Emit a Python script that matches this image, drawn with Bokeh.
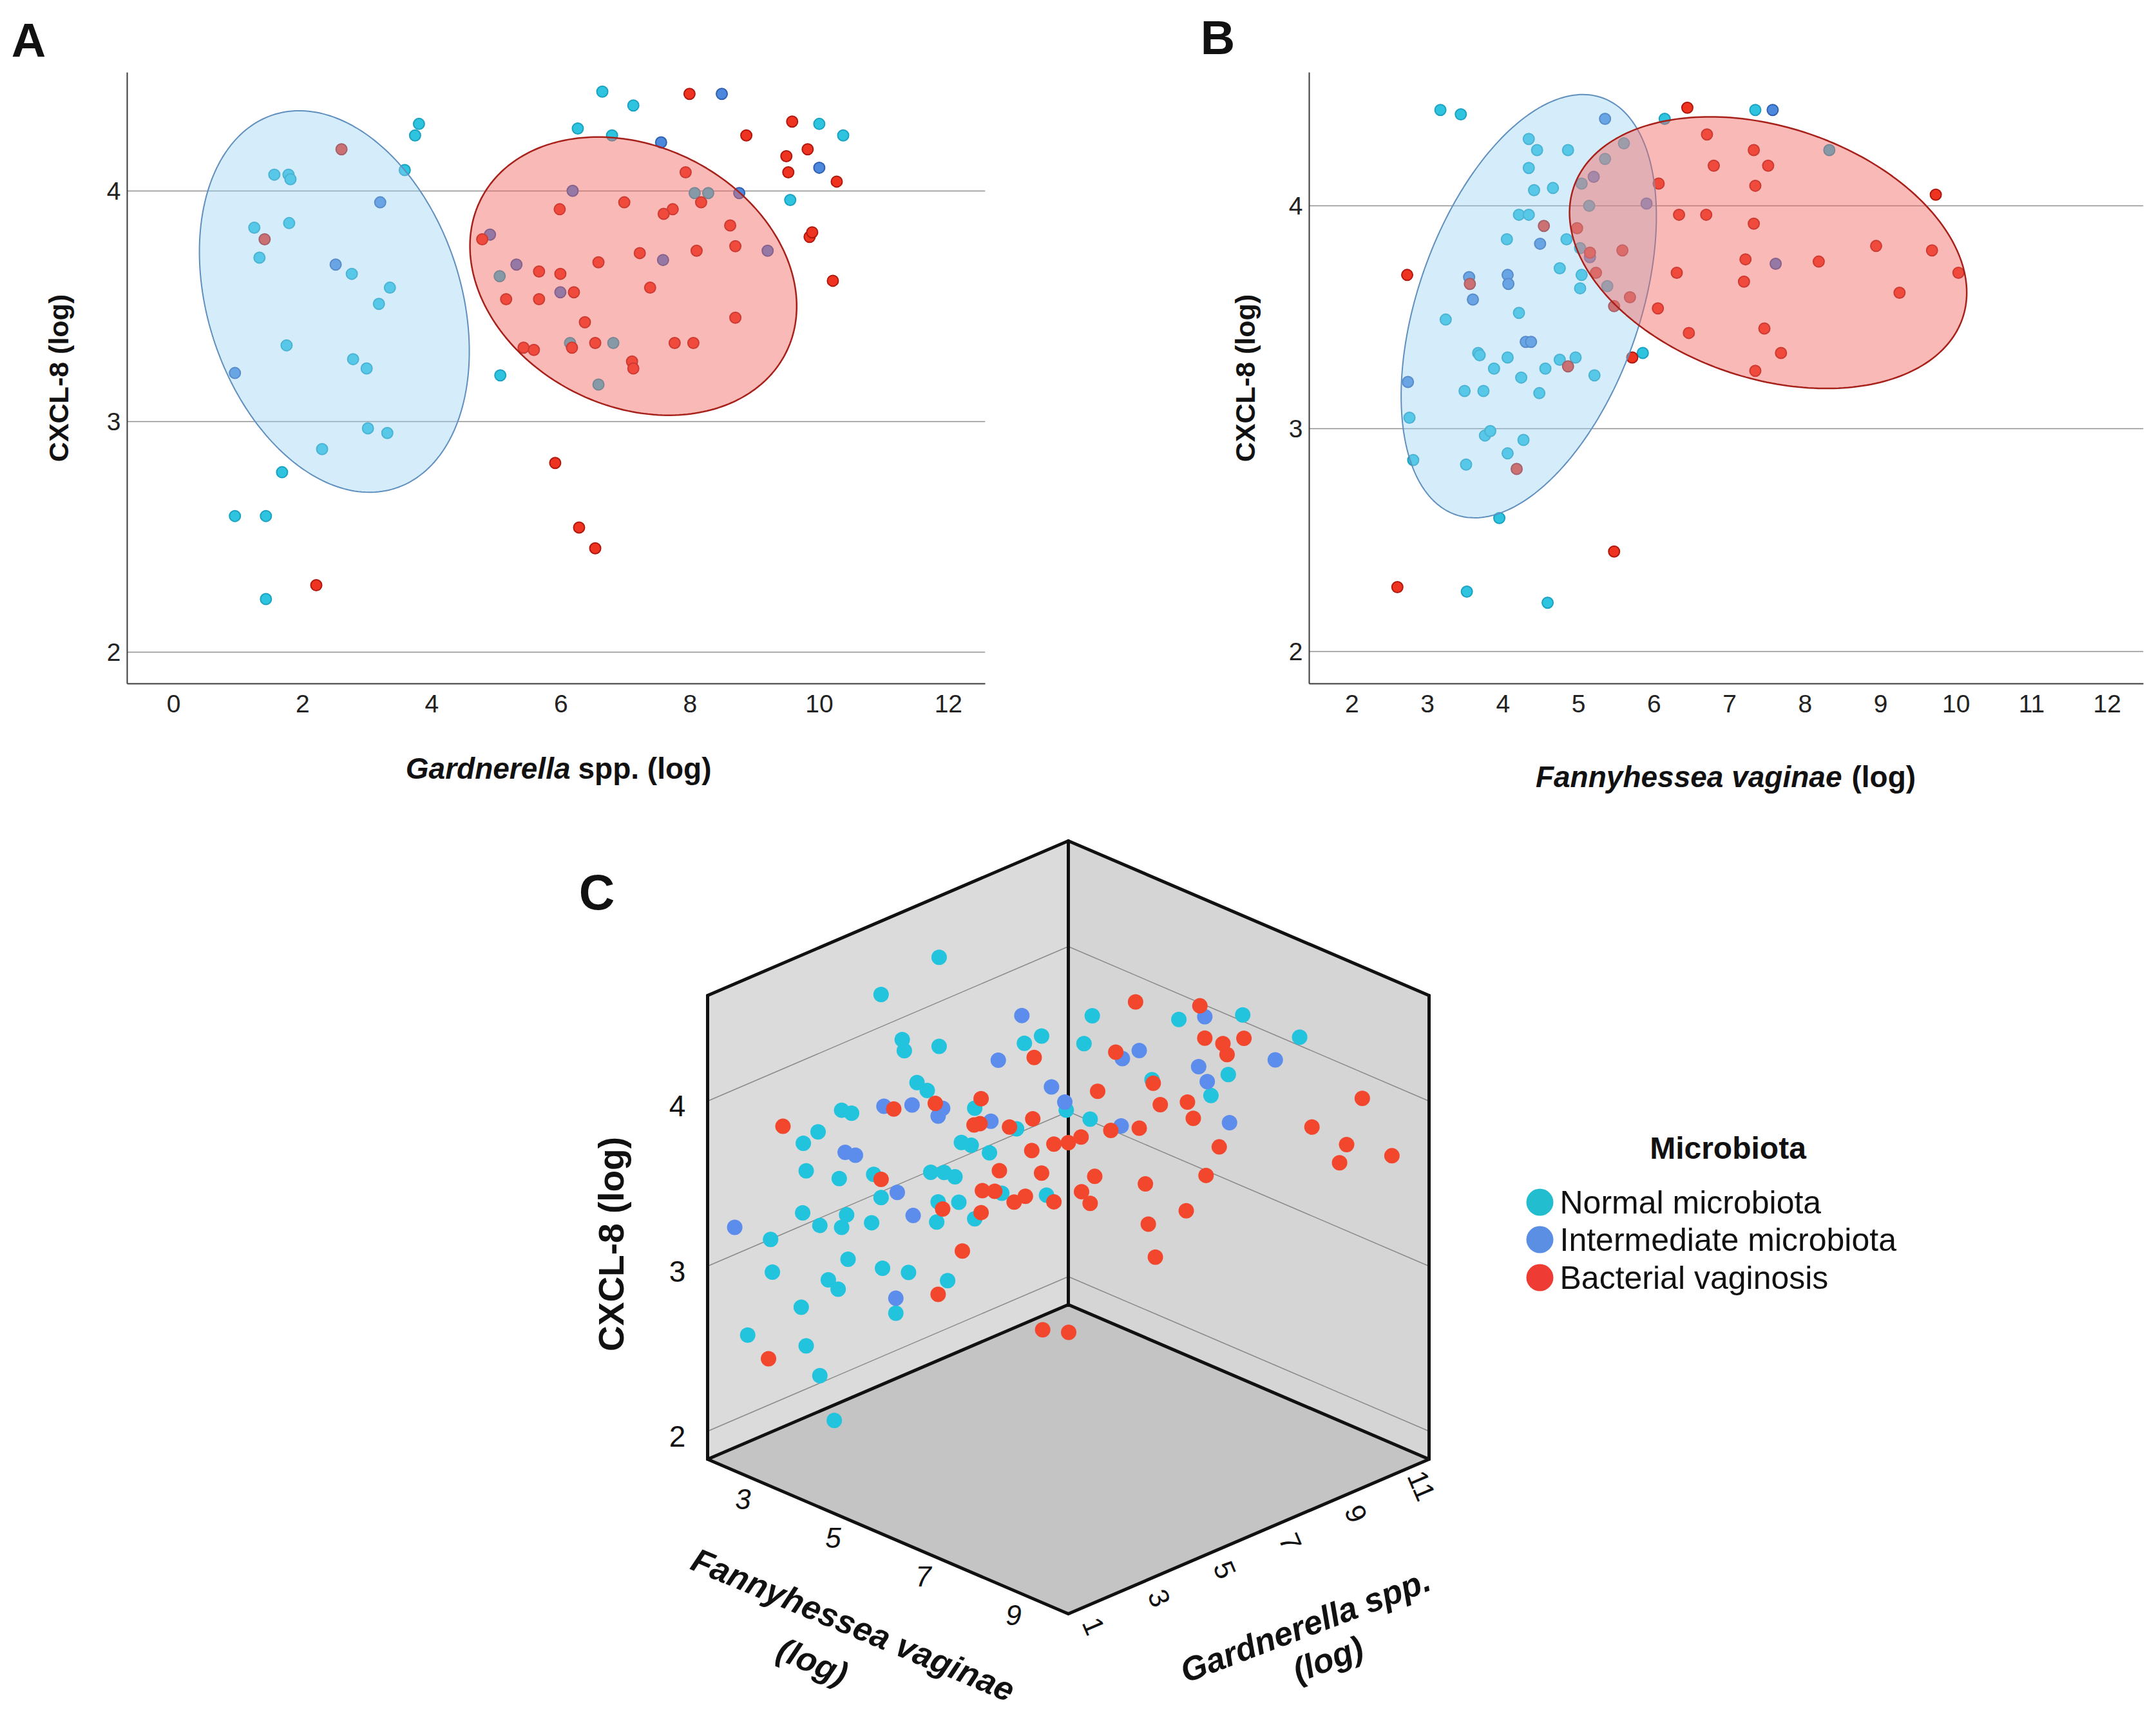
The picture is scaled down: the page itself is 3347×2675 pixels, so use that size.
import numpy as np
from bokeh.plotting import figure
from bokeh.models import Range1d, FixedTicker
from bokeh.layouts import column, row
from bokeh.embed import file_html
from bokeh.resources import INLINE
from bokeh.core.properties import value

FONT = "Liberation Sans"

# ---------------- Panel A: Gardnerella spp. (log) vs CXCL-8 (log) ----------------
a_nm_gard = [6.64, 7.12, 6.26, 6.79, 10.00, 10.37, 9.55, 3.80, 3.74, 3.58,
             1.56, 1.78, 1.81, 1.25, 1.79, 1.33, 2.76, 3.35, 3.18, 1.75,
             2.78, 2.99, 3.01, 3.31, 2.30, 1.68, 0.95, 1.43, 1.43, 5.06,
             5.05, 6.14, 6.81, 6.58, 8.07, 8.28]
a_nm_cxcl = [4.43, 4.37, 4.27, 4.24, 4.29, 4.24, 3.96, 4.29, 4.24, 4.09,
             4.07, 4.07, 4.05, 3.84, 3.86, 3.71, 3.64, 3.58, 3.51, 3.33,
             3.27, 3.23, 2.97, 2.95, 2.88, 2.78, 2.59, 2.59, 2.23, 3.20,
             3.63, 3.34, 3.34, 3.16, 3.99, 3.99]
a_im_gard = [8.49, 7.55, 10.00, 3.20, 2.51, 0.95, 6.18, 4.90, 5.31, 5.99, 7.58, 8.76, 9.20]
a_im_cxcl = [4.42, 4.21, 4.10, 3.95, 3.68, 3.21, 4.00, 3.81, 3.68, 3.56, 3.70, 3.99, 3.74]
a_bv_gard = [7.99, 9.58, 8.87, 9.82, 9.49, 9.52, 10.27, 9.85, 9.89, 10.21,
             7.93, 8.17, 6.98, 5.98, 7.73, 7.59, 8.62, 8.70, 8.10, 7.22,
             4.78, 6.58, 5.66, 5.99, 6.20, 7.38, 5.15, 5.66, 6.37, 8.70,
             5.42, 5.58, 6.17, 6.53, 7.76, 8.05, 7.10, 7.12, 5.91, 6.28,
             6.53, 2.21, 2.60, 1.41]
a_bv_cxcl = [4.42, 4.30, 4.24, 4.18, 4.15, 4.08, 4.04, 3.80, 3.82, 3.61,
             4.08, 3.95, 3.95, 3.92, 3.92, 3.90, 3.85, 3.76, 3.74, 3.73,
             3.79, 3.69, 3.65, 3.64, 3.56, 3.58, 3.53, 3.53, 3.43, 3.45,
             3.32, 3.31, 3.32, 3.34, 3.34, 3.34, 3.26, 3.23, 2.82, 2.54,
             2.45, 2.29, 4.18, 3.79]
# group ellipses: centre x, centre y, sd x, sd y, covariance
a_ellipse_nm = [2.49, 3.52, 2.09, 0.827, -0.45]
a_ellipse_bv = [7.12, 3.63, 2.53, 0.603, -0.33]
a_xticks = [0, 2, 4, 6, 8, 10, 12]

# ---------------- Panel B: Fannyhessea vaginae (log) vs CXCL-8 (log) ----------------
b_nm_fanny = [3.17, 3.44, 6.14, 7.34, 4.34, 4.45, 4.86, 5.60, 5.35, 8.32,
              4.34, 4.41, 4.66, 5.04, 4.21, 4.34, 5.14, 4.05, 4.84, 5.02,
              4.75, 5.04, 5.02, 5.38, 3.24, 4.21, 3.67, 3.69, 4.06, 4.75,
              4.96, 5.85, 3.88, 4.56, 4.24, 5.21, 3.49, 3.74, 4.48, 2.76,
              3.76, 3.83, 4.27, 2.81, 3.51, 4.06, 3.95, 3.52, 4.59]
b_nm_cxcl = [4.43, 4.41, 4.39, 4.43, 4.30, 4.25, 4.25, 4.28, 4.21, 4.25,
             4.17, 4.07, 4.08, 4.10, 3.96, 3.96, 4.00, 3.85, 3.85, 3.81,
             3.72, 3.69, 3.63, 3.64, 3.49, 3.52, 3.34, 3.33, 3.32, 3.31,
             3.32, 3.34, 3.27, 3.27, 3.23, 3.24, 3.17, 3.17, 3.16, 3.05,
             2.97, 2.99, 2.95, 2.86, 2.84, 2.89, 2.60, 2.27, 2.22]
b_im_fanny = [5.35, 7.57, 5.20, 5.90, 4.49, 5.15, 3.55, 4.06, 4.07, 3.60, 4.30, 4.37, 2.74, 7.61]
b_im_cxcl = [4.39, 4.43, 4.13, 4.01, 3.83, 3.77, 3.68, 3.69, 3.65, 3.58, 3.39, 3.39, 3.21, 3.74]
b_bv_fanny = [6.44, 6.70, 7.32, 6.79, 7.51, 6.06, 7.34, 9.73, 6.33, 6.69,
              7.32, 4.54, 4.98, 5.15, 5.58, 8.94, 9.68, 7.21, 8.18, 2.73,
              6.30, 10.03, 7.19, 3.56, 5.23, 9.25, 5.68, 5.47, 6.05, 7.46,
              6.46, 7.68, 5.71, 7.34, 4.86, 4.18, 5.47, 2.60]
b_bv_cxcl = [4.44, 4.32, 4.25, 4.18, 4.18, 4.10, 4.09, 4.05, 3.96, 3.96,
             3.92, 3.91, 3.90, 3.79, 3.80, 3.82, 3.80, 3.76, 3.75, 3.69,
             3.70, 3.70, 3.66, 3.65, 3.70, 3.61, 3.59, 3.55, 3.54, 3.45,
             3.43, 3.34, 3.32, 3.26, 3.28, 2.82, 2.45, 2.29]
b_ellipse_nm = [4.34, 3.55, 1.69, 0.949, 0.68]
b_ellipse_bv = [7.51, 3.79, 2.63, 0.609, -0.47]
b_xticks = [2, 3, 4, 5, 6, 7, 8, 9, 10, 11, 12]

# ---------------- Panel C: 3-D scatter ----------------
c_nm_fanny = [3.28, 2.96, 3.85, 3.76, 3.08, 3.09, 3.28, 3.99, 3.16, 3.22,
              2.74, 2.80, 3.48, 3.71, 2.61, 2.53, 3.41, 3.46, 3.56, 2.55,
              2.73, 2.92, 3.24, 3.31, 3.37, 2.96, 3.63, 3.88, 3.28, 3.39,
              2.53, 2.77, 2.74, 2.62, 2.91, 3.27, 3.48, 2.35, 2.78, 2.36,
              2.97, 3.11, 2.67, 2.72, 3.33, 3.04, 2.52, 2.22, 2.55, 2.62,
              2.70, 4.40, 5.84, 6.90, 4.26, 7.85, 6.66, 5.39, 6.37, 4.36]
c_nm_gard = [5.80, 4.47, 8.14, 7.74, 4.95, 5.00, 5.80, 8.70, 5.29, 5.52,
             3.57, 3.79, 6.61, 7.57, 3.03, 2.69, 6.30, 6.53, 6.95, 2.75,
             3.51, 4.30, 5.60, 5.91, 6.16, 4.47, 7.23, 8.25, 5.77, 6.25,
             2.67, 3.68, 3.57, 3.07, 4.25, 5.74, 6.61, 1.94, 3.71, 1.98,
             4.50, 5.10, 3.26, 3.49, 5.99, 4.81, 2.64, 1.42, 2.75, 3.07,
             3.40, 8.93, 9.59, 10.08, 8.87, 10.51, 9.97, 9.39, 9.84, 8.92]
c_nm_cxcl = [4.57, 4.42, 3.96, 3.94, 4.12, 4.05, 4.03, 3.48, 3.84, 3.78,
             3.77, 3.74, 3.61, 3.43, 3.67, 3.62, 3.42, 3.39, 3.32, 3.45,
             3.36, 3.34, 3.28, 3.26, 3.22, 3.19, 3.06, 2.99, 3.09, 3.06,
             3.20, 3.13, 3.06, 3.10, 3.05, 2.97, 2.94, 3.08, 2.86, 2.88,
             2.76, 2.70, 2.76, 2.69, 2.60, 2.47, 2.63, 2.53, 2.39, 2.19,
             1.90, 4.08, 4.17, 4.28, 3.90, 4.22, 3.90, 3.77, 3.75, 3.45]
c_im_fanny = [3.74, 3.61, 3.91, 3.98, 2.98, 3.13, 3.30, 3.28, 3.57, 2.76,
              2.82, 3.05, 3.14, 2.15, 3.04, 6.27, 4.90, 5.18, 6.17, 7.44,
              6.31, 4.88, 6.68]
c_im_gard = [7.69, 7.15, 8.36, 8.67, 4.53, 5.18, 5.88, 5.77, 6.98, 3.65,
             3.88, 4.84, 5.20, 1.12, 4.81, 9.79, 9.16, 9.29, 9.74, 10.33,
             9.81, 9.15, 9.98]
c_im_cxcl = [4.11, 3.87, 3.64, 3.53, 3.74, 3.71, 3.65, 3.61, 3.51, 3.51,
             3.48, 3.20, 3.04, 3.20, 2.56, 4.22, 3.86, 3.93, 3.91, 4.05,
             3.83, 3.45, 3.61]
c_bv_fanny = [3.81, 3.03, 3.26, 3.52, 3.48, 3.51, 3.67, 3.80, 3.92, 4.00,
              4.21, 2.42, 3.80, 2.96, 3.62, 3.85, 3.52, 3.59, 3.70, 3.76,
              3.92, 3.30, 3.52, 3.41, 3.28, 2.34, 3.86, 4.00, 5.12, 6.19,
              6.27, 6.57, 6.64, 6.92, 4.79, 5.41, 4.49, 8.89, 5.53, 5.98,
              6.08, 4.71, 5.18, 8.05, 6.51, 8.63, 8.51, 9.38, 6.29, 4.44,
              5.28, 4.22, 4.36, 5.96, 5.33, 5.45]
c_bv_gard = [7.97, 4.76, 5.71, 6.75, 6.59, 6.73, 7.41, 7.94, 8.42, 8.75,
             8.85, 2.22, 7.91, 4.47, 7.17, 8.14, 6.79, 7.07, 7.51, 7.77,
             8.42, 5.88, 6.75, 6.33, 5.77, 1.89, 8.16, 8.76, 9.26, 9.75,
             9.79, 9.93, 9.96, 10.09, 9.11, 9.40, 8.97, 10.99, 9.45, 9.66,
             9.70, 9.07, 9.29, 10.61, 9.90, 10.87, 10.82, 11.22, 9.80, 8.95,
             9.34, 8.85, 8.92, 9.65, 9.36, 9.41]
c_bv_cxcl = [3.84, 3.71, 3.69, 3.66, 3.51, 3.51, 3.45, 3.47, 3.29, 3.28,
             3.33, 3.75, 3.28, 3.30, 3.20, 3.13, 3.10, 3.08, 2.99, 3.01,
             2.94, 3.04, 2.97, 2.76, 2.53, 2.36, 2.18, 2.13, 4.22, 4.28,
             4.09, 4.08, 4.02, 4.14, 3.89, 3.75, 3.63, 3.93, 3.63, 3.68,
             3.59, 3.41, 3.46, 3.69, 3.45, 3.63, 3.51, 3.62, 3.26, 3.11,
             3.13, 3.00, 2.94, 3.02, 2.89, 2.70]
c_fanny_range = [2.0, 10.0]
c_gard_range = [0.5, 11.5]
c_cxcl_range = [1.83, 4.64]
c_fanny_ticks = [3, 5, 7, 9]
c_gard_ticks = [1, 3, 5, 7, 9, 11]
c_cxcl_ticks = [2, 3, 4]

groups = ["Normal microbiota", "Intermediate microbiota", "Bacterial vaginosis"]

FILL = ["#2EC4E0", "#4C88DC", "#EE3321"]
EDGE = ["#1AA2C0", "#2F5FB0", "#B0180E"]
FILL3D = ["#22C3DD", "#5C8CEC", "#F2472D"]
LEG = ["#22BECF", "#5B8FE3", "#EE3B33"]
INK = "#111111"

PAGE_W = 3331
TOP_H = 112          # strip holding the panel letters
ROW_H = 1030         # panels A and B
ROW_TOP = 8 + TOP_H
C_TOP = ROW_TOP + ROW_H
C_H = 2667 - C_TOP


def ellipse_xy(params, n=240):
    cx, cy, sx, sy, cov = params
    L = np.linalg.cholesky(np.array([[sx * sx, cov], [cov, sy * sy]]))
    t = np.linspace(0, 2 * np.pi, n)
    pts = L @ np.vstack([np.cos(t), np.sin(t)])
    return cx + pts[0], cy + pts[1]


def make_2d(width, height, xr, yr, mb, xticks, ylabel_standoff):
    p = figure(width=width, height=height, x_range=Range1d(*xr), y_range=Range1d(*yr),
               output_backend="svg", toolbar_location=None,
               min_border_left=mb[0], min_border_right=mb[1],
               min_border_top=mb[2], min_border_bottom=mb[3])
    p.outline_line_color = None
    p.xaxis.ticker = FixedTicker(ticks=xticks)
    p.yaxis.ticker = FixedTicker(ticks=[2, 3, 4])
    for ax in p.axis:
        ax.major_tick_out = 0
        ax.major_tick_in = 0
        ax.minor_tick_out = 0
        ax.minor_tick_in = 0
        ax.major_tick_line_color = None
        ax.minor_tick_line_color = None
        ax.axis_line_color = "#3a3a3a"
        ax.axis_line_width = 2
        ax.major_label_text_font = FONT
        ax.major_label_text_font_size = "39px"
        ax.major_label_text_color = "#222222"
    p.xaxis.major_label_standoff = 17
    p.yaxis.major_label_standoff = 10
    p.yaxis.axis_label = "CXCL-8 (log)"
    p.yaxis.axis_label_text_font = FONT
    p.yaxis.axis_label_text_font_size = "43px"
    p.yaxis.axis_label_text_font_style = "bold"
    p.yaxis.axis_label_text_color = INK
    p.yaxis.axis_label_standoff = ylabel_standoff
    p.xgrid.grid_line_color = None
    p.ygrid.ticker = FixedTicker(ticks=[2, 3, 4])
    p.ygrid.grid_line_color = "#8f8f8f"
    p.ygrid.grid_line_width = 1.6
    return p


def add_points(p, xs, ys):
    for (x, y), fc, lc in zip(zip(xs, ys), FILL, EDGE):
        p.scatter(x, y, size=17, fill_color=fc, line_color=lc, line_width=2)


def add_ellipses(p, ell_nm, ell_bv):
    ex, ey = ellipse_xy(ell_nm)
    p.patch(ex, ey, fill_color="#96CFF2", fill_alpha=0.4, line_color="#5E8FBF", line_width=2)
    ex, ey = ellipse_xy(ell_bv)
    p.patch(ex, ey, fill_color="#F2665F", fill_alpha=0.45, line_color="#A8201A", line_width=2.5)


def page_text(p, xs, ys, texts, size, style="normal", align="center", angle=0.0):
    p.text(xs, ys, text=texts, text_font=value(FONT), text_font_size=size,
           text_font_style=style, text_align=align, text_baseline="middle",
           angle=angle, text_color=INK)


# ---- strip with the panel letters (page coordinates) ----
pTop = figure(width=PAGE_W, height=TOP_H, output_backend="svg", toolbar_location=None,
              x_range=Range1d(8, 8 + PAGE_W), y_range=Range1d(ROW_TOP, 8),
              x_axis_location=None, y_axis_location=None, min_border=0)
pTop.outline_line_color = None
pTop.grid.grid_line_color = None
page_text(pTop, [52, 1898], [70, 66], ["A", "B"], "74px", "bold")

# ---- figure A ----  frame: page x 205..1537, y 120..1069
pA = make_2d(1640, ROW_H, (-0.718, 12.57), (1.863, 4.513),
             (197, 111, 0, ROW_H - (1069 - ROW_TOP)), a_xticks, 48)
add_points(pA, [a_nm_gard, a_im_gard, a_bv_gard], [a_nm_cxcl, a_im_cxcl, a_bv_cxcl])
add_ellipses(pA, a_ellipse_nm, a_ellipse_bv)

# ---- figure B ----  frame: page x 2040..3335, y 120..1071
pB = make_2d(1691, ROW_H, (1.433, 12.48), (1.857, 4.598),
             (392, 4, 0, ROW_H - (1071 - ROW_TOP)), b_xticks, 41)
add_points(pB, [b_nm_fanny, b_im_fanny, b_bv_fanny], [b_nm_cxcl, b_im_cxcl, b_bv_cxcl])
add_ellipses(pB, b_ellipse_nm, b_ellipse_bv)

# ---- figure C (oblique 3-D projection) ----
CUBE_X = 1106        # page position of the cube's front-left floor corner
CUBE_Y = 2273
UNIT = 560.0
KX, KZ = 240.0 / 560.0, 720.0 / 560.0

pC = figure(width=PAGE_W, height=C_H, output_backend="svg", toolbar_location=None,
            x_range=Range1d((8 - CUBE_X) / UNIT, (8 + PAGE_W - CUBE_X) / UNIT),
            y_range=Range1d((CUBE_Y - (C_TOP + C_H)) / UNIT, (CUBE_Y - C_TOP) / UNIT),
            x_axis_location=None, y_axis_location=None, min_border=0)
pC.outline_line_color = None
pC.grid.grid_line_color = None


def proj(F, G, Z):
    F = np.asarray(F, float)
    G = np.asarray(G, float)
    Z = np.asarray(Z, float)
    f = (F - c_fanny_range[0]) / (c_fanny_range[1] - c_fanny_range[0])
    g = (G - c_gard_range[0]) / (c_gard_range[1] - c_gard_range[0])
    z = (Z - c_cxcl_range[0]) / (c_cxcl_range[1] - c_cxcl_range[0])
    return f + g, KX * (g - f) + KZ * z


def page_uv(X, Y):
    X = np.asarray(X, float)
    Y = np.asarray(Y, float)
    return (X - CUBE_X) / UNIT, (CUBE_Y - Y) / UNIT


# x-axis titles of panels A and B (they sit just above panel C)
ux, vy = page_uv([893, 2867], [1200, 1213])
page_text(pC, ux, vy, ["Gardnerella", "Fannyhessea vaginae"], "46px", "bold italic", "right")
ux, vy = page_uv([905, 2882], [1200, 1213])
page_text(pC, ux, vy, ["spp. (log)", "(log)"], "46px", "bold", "left")

F0, F1 = c_fanny_range
G0, G1 = c_gard_range
Z0, Z1 = c_cxcl_range

u, v = proj([F0, F0, F0, F0], [G0, G1, G1, G0], [Z0, Z0, Z1, Z1])
pC.patch(u, v, fill_color="#DBDBDB", line_color=None)
u, v = proj([F0, F1, F1, F0], [G1, G1, G1, G1], [Z0, Z0, Z1, Z1])
pC.patch(u, v, fill_color="#D5D5D5", line_color=None)
u, v = proj([F0, F0, F1, F1], [G0, G1, G1, G0], [Z0, Z0, Z0, Z0])
pC.patch(u, v, fill_color="#C4C4C4", line_color=None)

gx, gy = [], []
for t in c_cxcl_ticks:
    u, v = proj([F0, F0, F1], [G0, G1, G1], [t, t, t])
    gx.append(list(u))
    gy.append(list(v))
pC.multi_line(gx, gy, line_color="#8a8a8a", line_width=1.5)

edges = [
    ([F0, F0], [G0, G0], [Z0, Z1]),
    ([F0, F0], [G1, G1], [Z0, Z1]),
    ([F1, F1], [G1, G1], [Z0, Z1]),
    ([F0, F0, F1], [G0, G1, G1], [Z1, Z1, Z1]),
    ([F0, F0, F1, F1, F0], [G0, G1, G1, G0, G0], [Z0, Z0, Z0, Z0, Z0]),
]
ex, ey = [], []
for e in edges:
    u, v = proj(*e)
    ex.append(list(u))
    ey.append(list(v))
pC.multi_line(ex, ey, line_color=INK, line_width=5, line_join="round", line_cap="round")

for (F, G, Z), col in zip([(c_nm_fanny, c_nm_gard, c_nm_cxcl),
                           (c_im_fanny, c_im_gard, c_im_cxcl),
                           (c_bv_fanny, c_bv_gard, c_bv_cxcl)], FILL3D):
    u, v = proj(F, G, Z)
    pC.scatter(u, v, size=24, fill_color=col, line_color=None)

# axis tick labels
u, v = proj([F0] * 3, [G0] * 3, c_cxcl_ticks)
pC.text(u, v, text=[str(t) for t in c_cxcl_ticks], x_offset=-47, y_offset=8,
        text_font=value(FONT), text_font_size="46px", text_align="center",
        text_baseline="middle", text_color=INK)
u, v = proj(c_fanny_ticks, [G0] * 4, [Z0] * 4)
pC.text(u, v, text=[str(t) for t in c_fanny_ticks], x_offset=-15, y_offset=32,
        text_font=value(FONT), text_font_size="44px", text_font_style="italic",
        text_align="center", text_baseline="middle", text_color=INK)
u, v = proj([F1] * 6, c_gard_ticks, [Z0] * 6)
pC.text(u, v, text=[str(t) for t in c_gard_ticks], x_offset=14, y_offset=30,
        angle=-1.17, text_font=value(FONT), text_font_size="44px",
        text_align="center", text_baseline="middle", text_color=INK)

# axis titles
zmid = 0.5 * (Z0 + Z1)
u, v = proj([F0], [G0], [zmid])
pC.text(u, v, text=["CXCL-8 (log)"], x_offset=-150, y_offset=26, angle=np.pi / 2,
        text_font=value(FONT), text_font_size="55px", text_font_style="bold",
        text_align="center", text_baseline="middle", text_color=INK)
u, v = proj([0.5 * (F0 + F1)] * 2, [G0] * 2, [Z0] * 2)
pC.text(u, v, text=["Fannyhessea vaginae", "(log)"], x_offset=[-54, -117], y_offset=[137, 194],
        angle=-0.396, text_font=value(FONT), text_font_size="52px",
        text_font_style="bold italic", text_align="center", text_baseline="middle",
        text_color=INK)
u, v = proj([F1] * 2, [0.5 * (G0 + G1)] * 2, [Z0] * 2)
pC.text(u, v, text=["Gardnerella spp.", "(log)"], x_offset=[88, 123], y_offset=[138, 190],
        angle=0.363, text_font=value(FONT), text_font_size="52px",
        text_font_style="bold italic", text_align="center", text_baseline="middle",
        text_color=INK)

# panel letter
ux, vy = page_uv([934], [1392])
page_text(pC, ux, vy, ["C"], "77px", "bold")

# legend
ux, vy = page_uv([2690], [1790])
page_text(pC, ux, vy, ["Microbiota"], "48px", "bold")
leg_y = [1874, 1932, 1991]
mx, my = page_uv([2398] * 3, leg_y)
pC.scatter(mx, my, size=42, fill_color=LEG, line_color=None)
ux, vy = page_uv([2429] * 3, leg_y)
page_text(pC, ux, vy, groups, "50px", "normal", "left")

layout = column(pTop, row(pA, pB), pC)
open("out.html", "w").write(file_html(layout, INLINE))
